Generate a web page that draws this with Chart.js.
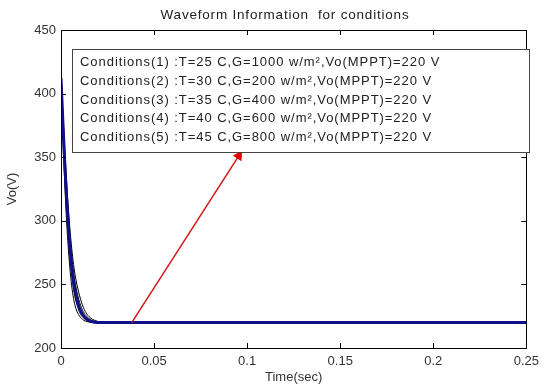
<!DOCTYPE html>
<html>
<head>
<meta charset="utf-8">
<script src="https://cdn.jsdelivr.net/npm/chart.js@4.4.1/dist/chart.umd.min.js"></script>
<style>
  html, body { margin: 0; padding: 0; background: #fff; }
  #wrap { width: 545px; height: 385px; }
</style>
</head>
<body>
<div id="wrap"><canvas id="waveChart"></canvas></div>
<script>
// --- DATA ---
const timeSec = [0, 0.001, 0.002, 0.003, 0.004, 0.005, 0.006, 0.007, 0.008, 0.010, 0.012, 0.014, 0.016, 0.018, 0.021, 0.025, 0.25];
const voBlue   = [412, 378, 346, 318, 295, 276, 261, 250, 242, 231, 225.5, 222.5, 221, 220.3, 220, 220, 220];
const voBlack1 = [405, 365, 330, 300, 277, 259, 246, 237, 231, 225, 222, 220.8, 220.2, 220, 220, 220, 220];
const voBlack2 = [410, 372, 338, 309, 286, 268, 254, 244, 237, 228, 223.8, 221.7, 220.7, 220.2, 220, 220, 220];
const voBlack3 = [414, 382, 352, 325, 302, 283, 268, 257, 248, 236, 228.5, 224.5, 222.2, 221, 220.2, 220, 220];
const voBlack4 = [416, 386, 357, 331, 309, 290, 275, 263, 254, 241, 232, 226.5, 223.5, 221.8, 220.5, 220, 220];
const arrowTime = [0.038, 0.0955];
const arrowVo = [220, 351];
const xTicks = [0, 0.05, 0.1, 0.15, 0.2, 0.25];
const yTicks = [200, 250, 300, 350, 400, 450];
const chartTitle = 'Waveform Information  for conditions';
const conditionLabels = [
    'Conditions(1) :T=25 C,G=1000 w/m\u00B2,Vo(MPPT)=220 V',
    'Conditions(2) :T=30 C,G=200 w/m\u00B2,Vo(MPPT)=220 V',
    'Conditions(3) :T=35 C,G=400 w/m\u00B2,Vo(MPPT)=220 V',
    'Conditions(4) :T=40 C,G=600 w/m\u00B2,Vo(MPPT)=220 V',
    'Conditions(5) :T=45 C,G=800 w/m\u00B2,Vo(MPPT)=220 V'
];

const FONT = '"Liberation Sans", Arial, sans-serif';
const TEXT_COLOR = '#333333';
const BLUE = '#10108a';

function toPoints(xs, ys) { return xs.map((x, i) => ({ x: x, y: ys[i] })); }

function curve(values, color, width, order) {
    return { data: toPoints(timeSec, values), borderColor: color, borderWidth: width,
             pointRadius: 0, cubicInterpolationMode: 'monotone', order: order };
}

// box, inward ticks (MATLAB style)
const axesBoxPlugin = {
    id: 'axesBox',
    afterDatasetsDraw(chart) {
        const { ctx, chartArea: a, scales } = chart;
        ctx.save();
        ctx.strokeStyle = '#000'; ctx.lineWidth = 1;
        ctx.strokeRect(Math.round(a.left) + 0.5, Math.round(a.top) + 0.5, Math.round(a.right - a.left), Math.round(a.bottom - a.top));
        ctx.beginPath();
        xTicks.forEach(v => {
            const px = Math.round(scales.x.getPixelForValue(v)) + 0.5;
            ctx.moveTo(px, a.bottom); ctx.lineTo(px, a.bottom - 5);
            ctx.moveTo(px, a.top); ctx.lineTo(px, a.top + 5);
        });
        yTicks.forEach(v => {
            const py = Math.round(scales.y.getPixelForValue(v)) + 0.5;
            ctx.moveTo(a.left, py); ctx.lineTo(a.left + 5, py);
            ctx.moveTo(a.right, py); ctx.lineTo(a.right - 5, py);
        });
        ctx.stroke();
        ctx.restore();
    }
};

// title + text box with the conditions
const conditionBoxPlugin = {
    id: 'conditionBox',
    afterDraw(chart) {
        const ctx = chart.ctx;
        ctx.save();
        ctx.fillStyle = '#222';
        ctx.font = '13.5px ' + FONT;
        ctx.letterSpacing = '0.8px';
        ctx.textAlign = 'center';
        ctx.textBaseline = 'middle';
        ctx.fillText(chartTitle, 285, 15);

        ctx.fillStyle = '#fff';
        ctx.fillRect(72, 49, 457, 103);
        ctx.strokeStyle = '#444'; ctx.lineWidth = 1;
        ctx.strokeRect(72.5, 49.5, 457, 103);
        ctx.fillStyle = '#222';
        ctx.font = '13px ' + FONT;
        ctx.letterSpacing = '0.95px';
        ctx.textAlign = 'left';
        conditionLabels.forEach((t, i) => ctx.fillText(t, 80, 62.5 + i * 18.8));
        ctx.restore();
    }
};

const ctx = document.getElementById('waveChart').getContext('2d');
new Chart(ctx, {
    type: 'line',
    data: { datasets: [
        curve(voBlack1, '#000', 1, 2),
        curve(voBlack2, '#000', 1, 2),
        curve(voBlack3, '#000', 1, 2),
        curve(voBlack4, '#000', 1, 2),
        curve(voBlue, BLUE, 3, 1),
        { data: toPoints(arrowTime, arrowVo), borderColor: '#d01818', backgroundColor: '#e00000', borderWidth: 1.5,
          pointRadius: [0, 6], pointStyle: 'triangle', rotation: 34, pointBorderWidth: 0, order: 0 }
    ]},
    options: {
        responsive: true, maintainAspectRatio: false, animation: false,
        layout: { padding: { left: 0, right: 9, top: 30, bottom: 0 } },
        plugins: { legend: { display: false }, tooltip: { enabled: false }, title: { display: false } },
        scales: {
            x: { type: 'linear', min: 0, max: 0.25,
                 afterBuildTicks: s => { s.ticks = xTicks.map(v => ({ value: v })); },
                 afterFit: s => { s.height = 37; },
                 ticks: { color: TEXT_COLOR, font: { family: FONT, size: 13 }, padding: 6, maxRotation: 0,
                          callback: v => String(v) },
                 grid: { drawOnChartArea: false, drawTicks: false }, border: { display: false },
                 title: { display: true, text: 'Time(sec)', color: TEXT_COLOR, font: { family: FONT, size: 13 }, padding: 0 } },
            y: { min: 200, max: 450,
                 afterBuildTicks: s => { s.ticks = yTicks.map(v => ({ value: v })); },
                 afterFit: s => { s.width = 61; },
                 ticks: { color: TEXT_COLOR, font: { family: FONT, size: 13 }, padding: 5 },
                 grid: { drawOnChartArea: false, drawTicks: false }, border: { display: false },
                 title: { display: true, text: 'Vo(V)', color: TEXT_COLOR, font: { family: FONT, size: 13 }, padding: { top: 5, bottom: 0 } } }
        }
    },
    plugins: [axesBoxPlugin, conditionBoxPlugin]
});
</script>
</body>
</html>
